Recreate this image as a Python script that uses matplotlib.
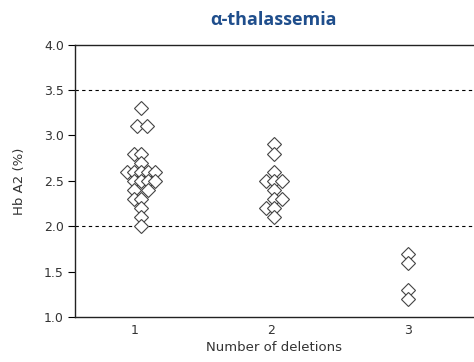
import matplotlib.pyplot as plt

# Hb A2 по числу делеций: значения и смещения точек внутри группы
del1_vals = [3.3, 3.1, 3.1, 2.8, 2.8, 2.7, 2.6, 2.6, 2.6, 2.6, 2.6,
             2.5, 2.5, 2.5, 2.5, 2.4, 2.4, 2.3, 2.3, 2.2, 2.1, 2.0]
del1_offs = [0.05, 0.02, 0.09, 0.0, 0.05, 0.05, -0.05, 0.0, 0.05, 0.10, 0.15,
             0.0, 0.05, 0.10, 0.15, 0.0, 0.10, 0.0, 0.05, 0.05, 0.05, 0.05]
del2_vals = [2.9, 2.8, 2.6, 2.5, 2.5, 2.5, 2.4, 2.3, 2.3, 2.2, 2.2, 2.1]
del2_offs = [0.02, 0.02, 0.02, -0.04, 0.02, 0.08, 0.02, 0.02, 0.08, -0.04, 0.02, 0.02]
del3_vals = [1.7, 1.6, 1.3, 1.2]
del3_offs = [0.0, 0.0, 0.0, 0.0]

groups = [1, 2, 3]
group_vals = [del1_vals, del2_vals, del3_vals]
group_offs = [del1_offs, del2_offs, del3_offs]
ref_lines = [2.0, 3.5]

fig = plt.figure(figsize=(4.74, 3.62), dpi=100)
ax = fig.add_axes([0.158, 0.124, 0.842, 0.753])

for g, vals, offs in zip(groups, group_vals, group_offs):
    xs = [g + o for o in offs]
    ax.plot(xs, vals, linestyle='none', marker='D', ms=7,
            mfc='white', mec='#444444', mew=0.8, zorder=3)

for y in ref_lines:
    ax.axhline(y, color='black', lw=0.8, ls=(0, (3, 3)), zorder=1)

ax.set_xlim(0.567, 3.48)
ax.set_ylim(1.0, 4.0)
ax.set_xticks(groups)
ax.set_yticks([1.0, 1.5, 2.0, 2.5, 3.0, 3.5, 4.0])
ax.set_yticklabels(['1.0', '1.5', '2.0', '2.5', '3.0', '3.5', '4.0'])

ax.spines['right'].set_visible(False)
for s in ['left', 'bottom', 'top']:
    ax.spines[s].set_linewidth(1.0)
    ax.spines[s].set_color('#222222')
ax.tick_params(axis='y', direction='out', length=5, width=0.8, labelsize=9,
               labelcolor='#333333', pad=3)
ax.tick_params(axis='x', length=0, labelsize=9, labelcolor='#333333', pad=5)

ax.set_xlabel('Number of deletions', fontsize=9.5, color='#333333', labelpad=3)
ax.set_ylabel('Hb A2 (%)', fontsize=9.5, color='#333333', labelpad=13)

fig.text(0.576, 0.945, 'α-thalassemia', ha='center', va='center',
         fontsize=13, fontweight='bold', color='#1F4E8C', family='Open Sans')

fig.savefig('out.png', dpi=100)
